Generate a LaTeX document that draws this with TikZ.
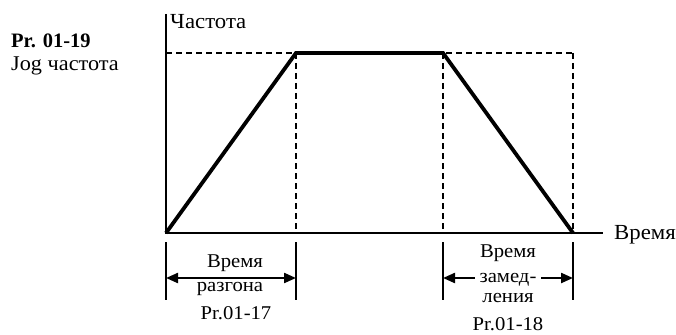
\documentclass[tikz,border=0pt]{standalone}
\usepackage{fontspec}
\setmainfont{Liberation Serif}
\newfontfamily\widefont[FakeStretch=1.06]{Liberation Serif}
\usetikzlibrary{arrows.meta}
\begin{document}
\begin{tikzpicture}[x=1pt,y=-1pt,
  axis/.style={line width=1.8pt},
  curve/.style={line width=3.8pt, line join=miter},
  guide/.style={line width=1.3pt, dash pattern=on 6pt off 4pt},
  tick/.style={line width=1.8pt},
  dim/.style={line width=2.2pt, {Triangle[length=12pt,width=10pt]}-{Triangle[length=12pt,width=10pt]}},
  lbl/.style={font=\widefont\fontsize{21.5}{23}\selectfont, inner sep=0pt},
  dimlbl/.style={font=\widefont\fontsize{19.5}{21}\selectfont, inner sep=0pt, anchor=base},
  gaplbl/.style={dimlbl, fill=white, inner xsep=5pt, inner ysep=1pt}]
\useasboundingbox (0,0) rectangle (676,334);
% key points
\coordinate (O) at (166,233);
\coordinate (Ytop) at (166,14);
\coordinate (Xend) at (603,233);
\coordinate (A) at (296,53);
\coordinate (B) at (443,53);
\coordinate (C) at (573,233);
\coordinate (L1) at (166,53);
\coordinate (R1) at (573,53);
\coordinate (A0) at (296,233);
\coordinate (B0) at (443,233);
% dashed guides
\draw[guide] (L1) -- (R1);
\draw[guide] (A) -- (A0);
\draw[guide] (B) -- (B0);
\draw[guide] (R1) -- (C);
% axes
\draw[axis] (Ytop) -- (O) -- (Xend);
% profile
\draw[curve] (O) -- (A) -- (B) -- (C);
% labels
\node[lbl, anchor=base west] (fq) at (170,29) {Частота};
\node[lbl, anchor=base west] (tm) at (614,239) {Время};
\node[font=\bfseries\fontsize{20.5}{22}\selectfont, inner sep=0pt, anchor=base west] (pr) at (11,48) {Pr. 01-19};
\node[font=\widefont\fontsize{21}{22}\selectfont, inner sep=0pt, anchor=base west] (jog) at (11,71) {Jog частота};
% dimension ticks
\coordinate (t1a) at (166,242); \coordinate (t1b) at (166,300);
\coordinate (t2a) at (296,242); \coordinate (t2b) at (296,300);
\coordinate (t3a) at (443,242); \coordinate (t3b) at (443,300);
\coordinate (t4a) at (573,242); \coordinate (t4b) at (573,300);
\draw[tick] (t1a) -- (t1b);
\draw[tick] (t2a) -- (t2b);
\draw[tick] (t3a) -- (t3b);
\draw[tick] (t4a) -- (t4b);
\coordinate (d1a) at (166,278); \coordinate (d1b) at (296,278);
\coordinate (d2a) at (443,278); \coordinate (d2b) at (573,278);
\draw[dim] (d1a) -- (d1b);
\draw[dim] (d2a) -- (d2b);
% acceleration label
\node[dimlbl] (acc1) at (235,267) {Время};
\node[gaplbl] (acc2) at (230,291) {разгона};
\node[dimlbl] (p17) at (236,319) {Pr.01-17};
% deceleration label
\node[dimlbl] (dec1) at (508,257) {Время};
\node[gaplbl] (dec2) at (508,282) {замед-};
\node[dimlbl] (dec3) at (508,302) {ления};
\node[dimlbl] (p18) at (508,330) {Pr.01-18};
\end{tikzpicture}
\end{document}
